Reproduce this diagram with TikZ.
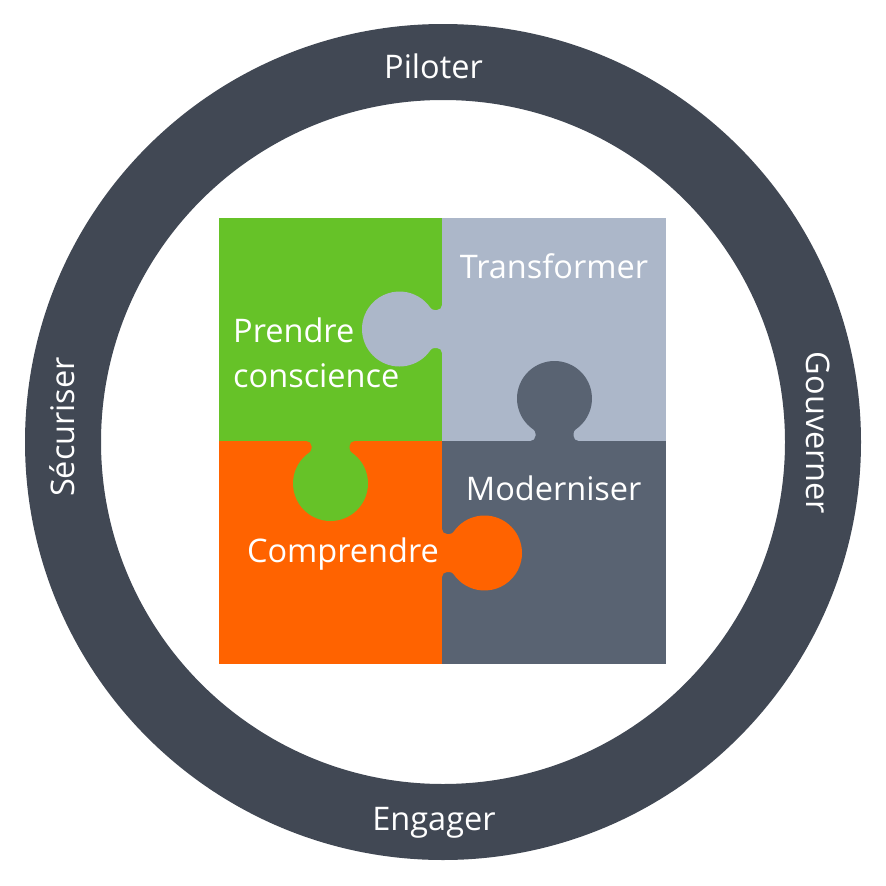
\documentclass[tikz,border=0pt]{standalone}
\usepackage{fontspec}
\setmainfont{Open Sans}
\definecolor{ringc}{HTML}{414854}
\definecolor{greenc}{HTML}{66C228}
\definecolor{orangec}{HTML}{FF6300}
\definecolor{lightc}{HTML}{ACB7C9}
\definecolor{darkc}{HTML}{596372}
\newcommand\puzzletab{%
  (-1,-24) -- (0,-24)
  arc[start angle=180, end angle=90, radius=5] -- (7.425,-19)
  arc[start angle=90, end angle=34.38, radius=5]
  arc[start angle=-145.62, end angle=145.62, radius=37.5]
  arc[start angle=-34.38, end angle=-90, radius=5] -- (5,19)
  arc[start angle=-90, end angle=-180, radius=5] -- (-1,24) -- cycle}
\begin{document}
\begin{tikzpicture}[x=1pt, y=-1pt,
  lbl/.style={text=white, font=\fontsize{32.5}{40}\selectfont, inner sep=0pt, anchor=base}]
\useasboundingbox (0,0) rectangle (886,886);
\fill[white] (0,0) rectangle (886,886);
% ring
\fill[ringc, even odd rule] (443,442) circle[radius=418] (443,442) circle[radius=342];
% tiles
\fill[greenc] (219,218) rectangle (442.5,441.5);
\fill[lightc] (442,218) rectangle (666,441.5);
\fill[orangec] (219,441) rectangle (442.5,664);
\fill[darkc] (442,441) rectangle (666,664);
% tabs
\begin{scope}[shift={(442,329)}, rotate=180]
  \fill[lightc] \puzzletab;
\end{scope}
\begin{scope}[shift={(554.5,441)}, rotate=90]
  \fill[darkc] \puzzletab;
\end{scope}
\begin{scope}[shift={(330.5,441)}, rotate=-90]
  \fill[greenc] \puzzletab;
\end{scope}
\begin{scope}[shift={(442,553)}, rotate=0]
  \fill[orangec] \puzzletab;
\end{scope}
% ring labels
\node[lbl] (piloter) at (433.5,78) {Piloter};
\node[lbl] (engager) at (434,830) {Engager};
\node[lbl, rotate=90] (securiser) at (74,427) {Sécuriser};
\node[lbl, rotate=-90] (gouverner) at (806,433) {Gouverner};
% tile labels
\node[lbl, anchor=base west] (prendre) at (233,342) {Prendre};
\node[lbl, anchor=base west] (conscience) at (233,387) {conscience};
\node[lbl] (transformer) at (554,278) {Transformer};
\node[lbl] (comprendre) at (343,562) {Comprendre};
\node[lbl] (moderniser) at (553.7,500.7) {Moderniser};
\end{tikzpicture}
\end{document}
